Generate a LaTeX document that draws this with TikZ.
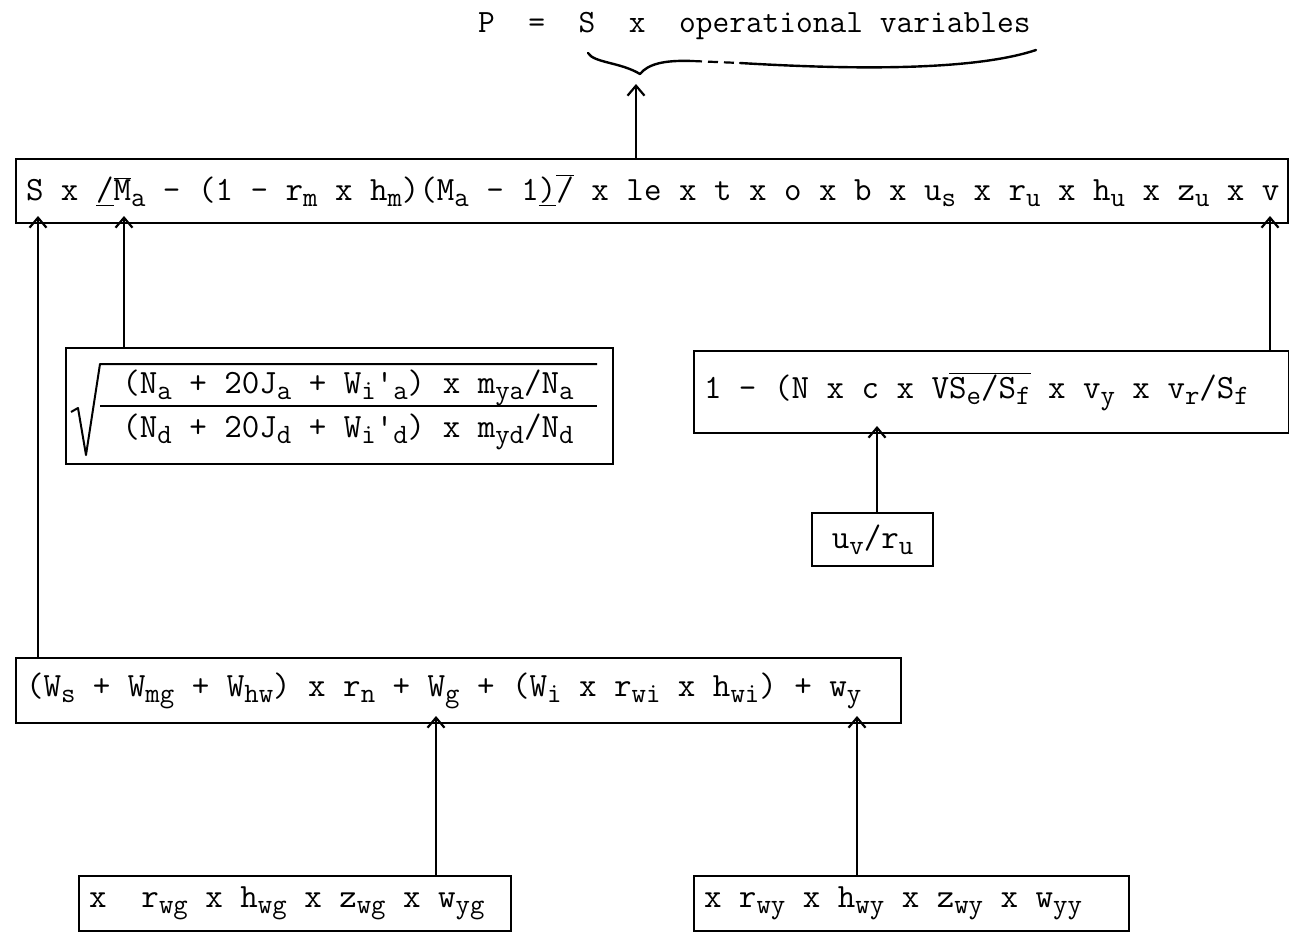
\documentclass[tikz,border=0pt]{standalone}
\usepackage{fontspec}
\usetikzlibrary{arrows.meta}
\newcommand\sbx[1]{\raisebox{-0.42ex}{\fontsize{28}{28}\selectfont #1}}
\begin{document}
\begin{tikzpicture}[x=1pt,y=-1pt,
  font=\ttfamily\fontsize{34}{40}\selectfont,
  box/.style={draw, line width=2pt, anchor=north west, inner xsep=10pt, inner ysep=0pt},
  conn/.style={line width=2.2pt, shorten >=-8pt, -{Straight Barb[length=10pt,width=17pt,line width=2.2pt]}}]
\useasboundingbox (0,0) rectangle (1289,937);

% top formula
\node[anchor=base west, inner sep=0pt, font=\ttfamily\fontsize{32.5}{40}\selectfont] (top) at (478,32) {P~~=~~S~~x~~operational variables};
\coordinate (tipP) at (636,84);
\draw[line width=2.4pt, line cap=round, line join=round] (588,53) .. controls (594,63) and (620,62) .. (640,74)
  .. controls (648,64) and (664,60) .. (692,61);
\draw[line width=2.2pt, dashed, dash pattern=on 10pt off 6pt] (692,61) -- (740,63);
\draw[line width=2.4pt, line cap=round] (740,63) .. controls (840,69) and (970,72) .. (1036,50);

% main box
\node[box, minimum height=64pt] (main) at (15,158)
  {\makebox[1252pt][l]{S x \underline{/}$\overline{\mbox{M}}$\sbx{a} - (1 - r\sbx{m} x h\sbx{m})(M\sbx{a} - 1\underline{)}$\overline{\mbox{/}}$ x le x t x o x b x u\sbx{s} x r\sbx{u} x h\sbx{u} x z\sbx{u} x v}};

% sqrt box
\node[box, inner sep=0pt, minimum width=547pt, minimum height=116pt] (sq) at (65,347) {};
\node[inner sep=0pt, anchor=base] (num) at (348,393)
  {(N\sbx{a} + 20J\sbx{a} + W\sbx{i}'\sbx{a}) x m\sbx{ya}/N\sbx{a}};
\node[inner sep=0pt, anchor=base] (den) at (348,437)
  {(N\sbx{d} + 20J\sbx{d} + W\sbx{i}'\sbx{d}) x m\sbx{yd}/N\sbx{d}};
\draw[line width=1.8pt] (100,406) -- (597,406);
\draw[line width=2pt, line join=round] (71,412) -- (78,408) -- (86,455) -- (100,364) -- (597,364);

% right box
\node[box, minimum height=82pt] (rb) at (693,350)
  {\makebox[575pt][l]{1 - (N x c x V$\overline{\mbox{S\sbx{e}/S\sbx{f}}}$ x v\sbx{y} x v\sbx{r}/S\sbx{f}}};

% uv/ru box
\node[box, inner sep=0pt, minimum width=121pt, minimum height=53pt] (uv) at (811,512) {u\sbx{v}/r\sbx{u}};

% W box
\node[box, minimum height=65pt] (wb) at (15,657)
  {\makebox[865pt][l]{(W\sbx{s} + W\sbx{mg} + W\sbx{hw}) x r\sbx{n} + W\sbx{g} + (W\sbx{i} x r\sbx{wi} x h\sbx{wi}) + w\sbx{y}}};

% bottom boxes
\node[box, minimum height=55pt] (b4) at (78,875)
  {\makebox[412pt][l]{x~~r\sbx{wg} x h\sbx{wg} x z\sbx{wg} x w\sbx{yg}}};
\node[box, minimum height=55pt] (b5) at (693,875)
  {\makebox[415pt][l]{x r\sbx{wy} x h\sbx{wy} x z\sbx{wy} x w\sbx{yy}}};

% connector x positions
\coordinate (xa) at (38,0);
\coordinate (xb) at (124,0);
\coordinate (xc) at (1270,0);
\coordinate (xd) at (877,0);
\coordinate (xe) at (436,0);
\coordinate (xf) at (857,0);

\draw[conn, shorten >=0pt] (main.north -| tipP) -- (tipP);
\draw[conn] (wb.north -| xa) -- (main.south -| xa);
\draw[conn] (sq.north -| xb) -- (main.south -| xb);
\draw[conn] (rb.north -| xc) -- (main.south -| xc);
\draw[conn] (uv.north -| xd) -- (rb.south -| xd);
\draw[conn] (b4.north -| xe) -- (wb.south -| xe);
\draw[conn] (b5.north -| xf) -- (wb.south -| xf);
\end{tikzpicture}
\end{document}
